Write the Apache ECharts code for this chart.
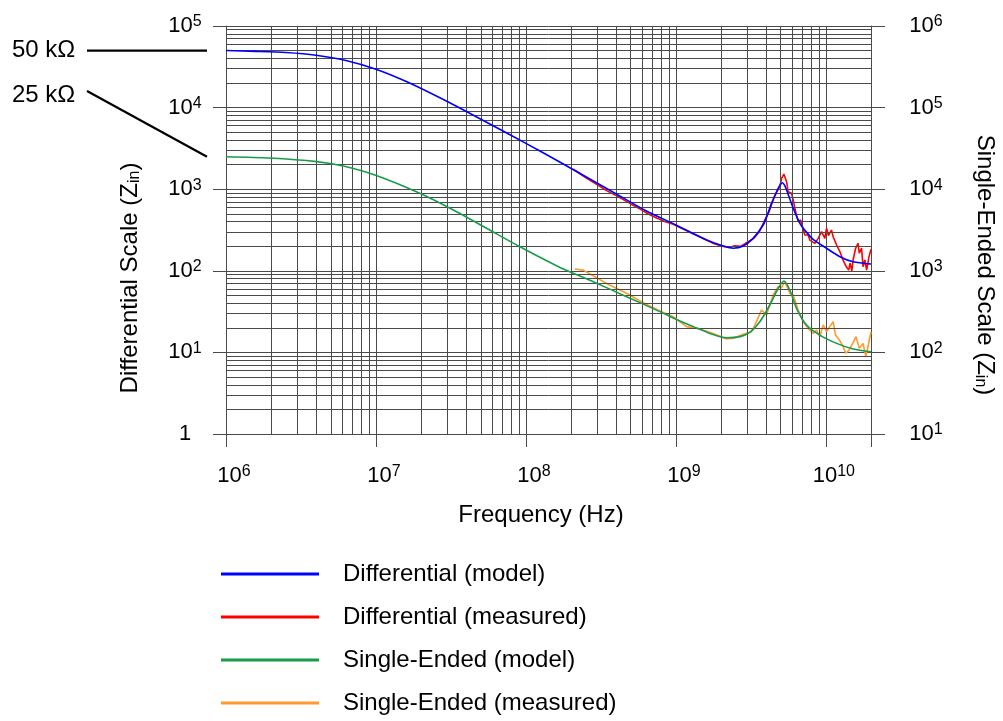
<!DOCTYPE html>
<html><head><meta charset="utf-8">
<script src="https://cdn.jsdelivr.net/npm/echarts@6/dist/echarts.min.js"></script>
<style>html,body{margin:0;padding:0;background:#fff}#c{width:1003px;height:721px}</style>
</head><body><div id="c"></div><script>
// ---------- data (frequency in Hz, impedance in ohms) ----------
const diffModelFreq = [1e6,1.58e6,2.51e6,3.98e6,6.31e6,1e7,1.58e7,2.51e7,3.98e7,6.31e7,1e8,1.58e8,2.51e8,3.98e8,6.31e8,1e9,1.26e9,1.6e9,2.07e9,2.41e9,2.81e9,3.27e9,3.82e9,4.05e9,4.34e9,4.6e9,4.81e9,5.0e9,5.14e9,5.3e9,5.47e9,5.75e9,6.06e9,6.71e9,7.4e9,8.23e9,1.01e10,1.24e10,1.52e10,2e10];
const diffModel = [50000,48900,47300,43900,37800,29500,21000,13950,9020,5750,3640,2300,1420,880,545,365,295,238,201,189,201,250,364,470,671,850,1026,1150,1202,1120,978,760,583,382,300,243,189,149,129,121];

const diffMeasFreq = [2.07e8,2.5e8,3.0e8,3.45e8,4.0e8,5.0e8,5.75e8,6.5e8,7.5e8,8.5e8,9.6e8,1.1e9,1.26e9,1.51e9,1.8e9,2.07e9,2.3e9,2.47e9,2.7e9,2.96e9,3.2e9,3.36e9,3.6e9,3.92e9,4.2e9,4.57e9,4.93e9,5.07e9,5.25e9,5.47e9,5.6e9,5.9e9,6.06e9,6.3e9,6.54e9,6.78e9,7.24e9,7.62e9,7.82e9,8.45e9,8.89e9,9.36e9,9.6e9,9.85e9,1.01e10,1.04e10,1.09e10,1.12e10,1.18e10,1.24e10,1.3e10,1.37e10,1.42e10,1.45e10,1.49e10,1.52e10,1.58e10,1.64e10,1.67e10,1.73e10,1.77e10,1.82e10,1.87e10,1.94e10,2e10];
const diffMeas = [1754,1390,1130,960,835,660,575,500,440,400,372,330,292,252,215,199,194,203,199,221,240,257,300,420,540,849,1072,1361,1535,1236,931,891,737,520,400,420,275,275,238,217,250,302,316,250,332,270,316,260,207,172,136,112,102,124,100,136,189,217,164,190,112,136,102,149,184];

const seModelFreq = [1e6,1.96e6,4.02e6,6.05e6,9.85e6,1.96e7,3.28e7,5.47e7,9.12e7,1.69e8,2.81e8,4.69e8,7.82e8,1e9,1.31e9,1.69e9,2.18e9,2.67e9,3.11e9,3.63e9,4.23e9,4.81e9,5.25e9,5.75e9,6.37e9,7.43e9,9.12e9,1.18e10,1.52e10,2e10];
const seModel = [25000,24100,21800,19250,14900,8900,5560,3320,1970,1100,736,482,316,255,207,171,151,156,176,238,381,611,750,582,347,217,163,129,110,102];

const seMeasFreq = [2.12e8,2.41e8,2.81e8,3.28e8,3.82e8,4.69e8,6.05e8,7.82e8,9.6e8,1.06e9,1.18e9,1.44e9,1.77e9,2.18e9,2.41e9,2.81e9,3.19e9,3.45e9,3.72e9,4.02e9,4.45e9,4.81e9,5.05e9,5.33e9,5.75e9,6.06e9,6.54e9,7.06e9,7.62e9,8.23e9,8.67e9,9.12e9,9.6e9,1.01e10,1.06e10,1.12e10,1.16e10,1.23e10,1.29e10,1.36e10,1.43e10,1.51e10,1.59e10,1.67e10,1.77e10,1.85e10,1.95e10,2e10];
const seMeas = [1050,1020,870,736,638,530,406,321,274,238,207,194,171,146,149,167,179,238,331,287,505,638,620,736,530,505,331,238,197,171,188,156,217,179,207,238,163,142,123,97.5,107,129,156,112,129,88.5,142,179];

const seriesNames = ['Differential (model)','Differential (measured)','Single-Ended (model)','Single-Ended (measured)'];
const annotLabels = ['50 kΩ','25 kΩ'];
const annotValues = [50000, 2500];   // left-scale values the annotation lines point at
const minorMult = [2,3,4,5,6,7,8,9];
const xDecades = [6,7,8,9];
const yDecades = [0,1,2,3,4];
const xMin = 1e6, xMax = 2e10;

// ---------- chart ----------
const FONT = '"Liberation Sans", Arial, Helvetica, sans-serif';
const GRID = '#4a4a4a';
const chart = echarts.init(document.getElementById('c'), null, {renderer:'canvas'});
const zip = (f, v) => f.map((x, i) => [x, v[i]]);

function powLabel(v){
  const l = Math.log10(v), e = Math.round(l);
  if (Math.abs(l - e) > 1e-6) return '';
  if (e === 0) return '1';
  return '10{sup|' + e + '}';
}
const supRich = { sup: { fontSize: 16, fontFamily: FONT, color: '#000', verticalAlign: 'top', lineHeight: 7 } };
const labelBase = { fontSize: 22, fontFamily: FONT, color: '#000', lineHeight: 24, rich: supRich, formatter: powLabel, showMinLabel: true, showMaxLabel: true };

const vLines = [], hLines = [];
xDecades.forEach(d => minorMult.forEach(m => { const v = m * Math.pow(10, d); if (v < xMax) vLines.push({ xAxis: v }); }));
yDecades.forEach(d => minorMult.forEach(m => hLines.push({ yAxis: m * Math.pow(10, d) })));

const colors = ['#0000ff', '#ff0000', '#179c4a', '#ff9a2e'];
const TXT = 24;

chart.setOption({
  animation: false,
  backgroundColor: '#fff',
  grid: { left: 226, right: 132, top: 26, bottom: 287, containLabel: false },
  xAxis: {
    type: 'log', logBase: 10, min: xMin, max: xMax,
    axisLine: { show: true, lineStyle: { color: GRID, width: 1 } },
    axisTick: { show: true, length: 13, inside: false, lineStyle: { color: GRID, width: 1 } },
    axisLabel: Object.assign({}, labelBase, { margin: 30, padding: [0, 0, 0, 16] }),
    splitLine: { show: true, lineStyle: { color: GRID, width: 1 } },
    minorTick: { show: false }, minorSplitLine: { show: false }
  },
  yAxis: [{
    type: 'log', logBase: 10, min: 1, max: 1e5, position: 'left',
    axisLine: { show: true, lineStyle: { color: GRID, width: 1 } },
    axisTick: { show: true, length: 13, inside: false, lineStyle: { color: GRID, width: 1 } },
    axisLabel: Object.assign({}, labelBase, { margin: 41, align: 'center' }),
    splitLine: { show: true, lineStyle: { color: GRID, width: 1 } }
  }, {
    type: 'log', logBase: 10, min: 10, max: 1e6, position: 'right',
    axisLine: { show: true, lineStyle: { color: GRID, width: 1 } },
    axisTick: { show: true, length: 14, inside: false, lineStyle: { color: GRID, width: 1 } },
    axisLabel: Object.assign({}, labelBase, { margin: 55, align: 'center' }),
    splitLine: { show: false }
  }],
  legend: {
    data: seriesNames, orient: 'vertical', left: 221, top: 562, height: 159, padding: 0,
    icon: 'rect', itemWidth: 98, itemHeight: 3, itemGap: 19,
    textStyle: { fontSize: TXT, fontFamily: FONT, color: '#000', lineHeight: 24, padding: [0, 0, 0, 19] },
    selectedMode: false
  },
  series: [
    { type: 'line', name: '_grid', data: [], z: 1, silent: true,
      markLine: { silent: true, symbol: ['none', 'none'], label: { show: false }, animation: false,
        lineStyle: { color: GRID, width: 1, type: 'solid' }, emphasis: { disabled: true },
        data: vLines.concat(hLines) } },
    { type: 'line', name: seriesNames[0], data: zip(diffModelFreq, diffModel), yAxisIndex: 0, z: 5,
      showSymbol: false, smooth: 0.25, lineStyle: { color: colors[0], width: 1.6 }, itemStyle: { color: colors[0] } },
    { type: 'line', name: seriesNames[1], data: zip(diffMeasFreq, diffMeas), yAxisIndex: 0, z: 4,
      showSymbol: false, lineStyle: { color: colors[1], width: 1.6 }, itemStyle: { color: colors[1] } },
    { type: 'line', name: seriesNames[2], data: zip(seModelFreq, seModel), yAxisIndex: 1, z: 5,
      showSymbol: false, smooth: 0.25, lineStyle: { color: colors[2], width: 1.6 }, itemStyle: { color: colors[2] } },
    { type: 'line', name: seriesNames[3], data: zip(seMeasFreq, seMeas), yAxisIndex: 1, z: 4,
      showSymbol: false, lineStyle: { color: colors[3], width: 1.6 }, itemStyle: { color: colors[3] } }
  ]
});

// ---------- annotations and axis titles ----------
const xL = chart.convertToPixel({ xAxisIndex: 0 }, xMin);
const yA = annotValues.map(v => chart.convertToPixel({ yAxisIndex: 0 }, v));
const subRich = { sub: { fontSize: 16, fontFamily: FONT, fill: '#000', verticalAlign: 'bottom', lineHeight: 10 } };
const titleStyle = (t) => ({ text: t, fontSize: TXT, fontFamily: FONT, fill: '#000', align: 'center', verticalAlign: 'middle', lineHeight: 26, rich: subRich });
chart.setOption({
  graphic: [
    { type: 'line', shape: { x1: xL - 139, y1: yA[0], x2: xL - 19, y2: yA[0] }, style: { stroke: '#000', lineWidth: 2.2 } },
    { type: 'line', shape: { x1: xL - 139, y1: 91, x2: xL - 19, y2: yA[1] }, style: { stroke: '#000', lineWidth: 2.2 } },
    { type: 'text', x: 12, y: yA[0], style: { text: annotLabels[0], fontSize: TXT, fontFamily: FONT, fill: '#000', align: 'left', verticalAlign: 'middle' } },
    { type: 'text', x: 12, y: 95, style: { text: annotLabels[1], fontSize: TXT, fontFamily: FONT, fill: '#000', align: 'left', verticalAlign: 'middle' } },
    { type: 'text', x: 541, y: 515, style: titleStyle('Frequency (Hz)') },
    { type: 'text', x: 130, y: 278, rotation: Math.PI / 2, style: titleStyle('Differential Scale (Z{sub|in})') },
    { type: 'text', x: 985, y: 265, rotation: -Math.PI / 2, style: titleStyle('Single-Ended Scale (Z{sub|in})') }
  ]
});
</script></body></html>
